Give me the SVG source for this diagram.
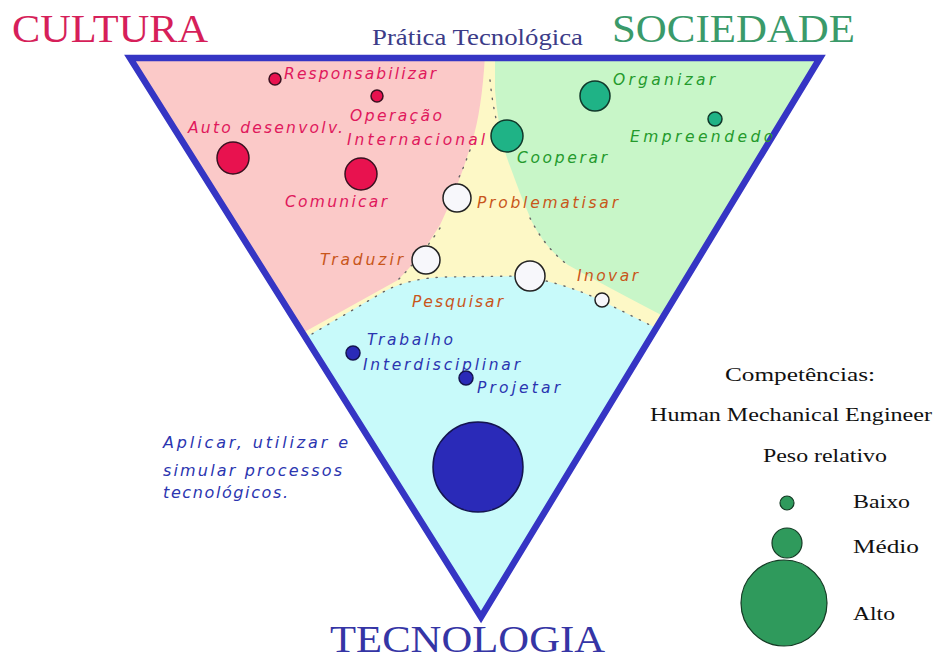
<svg xmlns="http://www.w3.org/2000/svg" width="935" height="661" viewBox="0 0 935 661">
<defs>
<style>
.lbl{font-family:"DejaVu Sans","Liberation Sans",sans-serif;font-style:italic;font-size:15.5px;}
.big{font-family:"DejaVu Sans","Liberation Sans",sans-serif;font-style:italic;font-size:16px;}
.ser{font-family:"Liberation Serif","DejaVu Serif",serif;}
.red{fill:#e0185c;}
.grn{fill:#249a2c;}
.org{fill:#c8561a;}
.blu{fill:#2b35b0;}
.cr{fill:#e8124f;stroke:#3a1020;stroke-width:1.5;}
.cg{fill:#1fb386;stroke:#10382a;stroke-width:1.5;}
.cw{fill:#f7f7fb;stroke:#222;stroke-width:1.5;}
.cb{fill:#2a2ab8;stroke:#141450;stroke-width:1.5;}
.cl{fill:#2f9a5c;stroke:#143a24;stroke-width:1.2;}
.dot{fill:none;stroke:#666;stroke-width:1.4;stroke-dasharray:1.2 8;stroke-linecap:round;}
.leg{font-size:19px;fill:#111;}
</style>
<clipPath id="tri"><polygon points="130,58 820,58 481,617"/></clipPath>
</defs>
<rect width="935" height="661" fill="#ffffff"/>

<g id="regions" clip-path="url(#tri)">
<polygon points="130,58 820,58 481,617" fill="#fdf8c6"/>
<path id="reg-cultura" d="M100,40 L486,40 L484,70 Q480,120 470,148 Q457,190 440,225 Q420,258 398,280 L290,340 L100,340 Z" fill="#fbc9c8"/>
<path id="reg-sociedade" d="M495,40 L850,40 L850,350 L700,335 Q620,294 568,265 Q545,248 532,222 Q518,190 506,155 Q497,120 495,90 Z" fill="#c8f6c8"/>
<path id="reg-tecnologia" d="M290,346 L385,291 Q410,278 445,277 L520,276 Q562,282 600,300 L680,340 L680,650 L270,650 Z" fill="#c8fafa"/>
<path class="dot" d="M312,334 L385,291 Q410,278 445,277 L520,276 Q562,282 600,300 L660,330"/>
<path class="dot" d="M490,80 Q494,120 505,150"/>
<path class="dot" d="M530,218 Q545,248 568,265"/>
<path class="dot" d="M470,150 Q460,178 452,190"/>
<path class="dot" d="M440,228 Q420,258 398,280"/>
</g>

<polygon id="triangle" points="130,58 820,58 481,617" fill="none" stroke="#3535c4" stroke-width="6.5" stroke-linejoin="miter"/>

<g id="titles" class="ser">
<text x="12" y="42" font-size="40" fill="#d61f5a" textLength="196" lengthAdjust="spacingAndGlyphs">CULTURA</text>
<text x="372" y="45" font-size="24" fill="#3c3c88" textLength="211" lengthAdjust="spacingAndGlyphs">Prática Tecnológica</text>
<text x="612" y="42" font-size="40" fill="#3a9a6a" textLength="243" lengthAdjust="spacingAndGlyphs">SOCIEDADE</text>
<text x="330" y="652" font-size="37" fill="#3535a5" textLength="275" lengthAdjust="spacingAndGlyphs">TECNOLOGIA</text>
</g>

<g id="node-responsabilizar">
<circle class="cr" cx="275" cy="79" r="6"/>
<text class="lbl red" x="284" y="79" textLength="152">Responsabilizar</text>
</g>
<g id="node-operacao">
<circle class="cr" cx="377" cy="96" r="6"/>
<text class="lbl red" x="350" y="121" textLength="92">Operação</text>
<text class="lbl red" x="347" y="145" textLength="138">Internacional</text>
</g>
<g id="node-auto">
<circle class="cr" cx="233" cy="158" r="16"/>
<text class="lbl red" x="188" y="133" textLength="155">Auto desenvolv.</text>
</g>
<g id="node-comunicar">
<circle class="cr" cx="361" cy="174" r="16"/>
<text class="lbl red" x="285" y="207" textLength="102">Comunicar</text>
</g>

<g id="node-organizar">
<circle class="cg" cx="595" cy="96" r="15"/>
<text class="lbl grn" x="613" y="85" textLength="102">Organizar</text>
</g>
<g id="node-empreendedor">
<circle class="cg" cx="715" cy="119" r="7"/>
<text class="lbl grn" x="630" y="142" textLength="153" clip-path="url(#tri)">Empreendedor</text>
</g>
<g id="node-cooperar">
<circle class="cg" cx="507" cy="136" r="16"/>
<text class="lbl grn" x="517" y="163" textLength="90">Cooperar</text>
</g>

<g id="node-problematisar">
<circle class="cw" cx="457" cy="198" r="14"/>
<text class="lbl org" x="477" y="208" textLength="141">Problematisar</text>
</g>
<g id="node-traduzir">
<circle class="cw" cx="426" cy="260" r="14"/>
<text class="lbl org" x="320" y="265" textLength="83">Traduzir</text>
</g>
<g id="node-pesquisar">
<circle class="cw" cx="530" cy="276" r="15"/>
<text class="lbl org" x="412" y="307" textLength="91">Pesquisar</text>
</g>
<g id="node-inovar">
<circle class="cw" cx="602" cy="300" r="7"/>
<text class="lbl org" x="577" y="281" textLength="61">Inovar</text>
</g>

<g id="node-trabalho">
<circle class="cb" cx="353" cy="353" r="7"/>
<text class="lbl blu" x="367" y="345" textLength="86">Trabalho</text>
<text class="lbl blu" x="363" y="370" textLength="157">Interdisciplinar</text>
</g>
<g id="node-projetar">
<circle class="cb" cx="466" cy="378" r="7"/>
<text class="lbl blu" x="477" y="393" textLength="83">Projetar</text>
</g>
<g id="node-aplicar">
<circle class="cb" cx="478" cy="467" r="45"/>
<text class="big blu" x="163" y="448" textLength="185">Aplicar, utilizar e</text>
<text class="big blu" x="163" y="476" textLength="179">simular processos</text>
<text class="big blu" x="163" y="498" textLength="125">tecnológicos.</text>
</g>

<g id="legend" class="ser">
<text class="leg" x="725" y="381" textLength="150" lengthAdjust="spacingAndGlyphs">Competências:</text>
<text class="leg" x="650" y="421" textLength="282" lengthAdjust="spacingAndGlyphs">Human Mechanical Engineer</text>
<text class="leg" x="763" y="462" textLength="124" lengthAdjust="spacingAndGlyphs">Peso relativo</text>
<g id="legend-baixo">
<circle class="cl" cx="787" cy="503" r="7"/>
<text class="leg" x="853" y="508" textLength="57" lengthAdjust="spacingAndGlyphs">Baixo</text>
</g>
<g id="legend-medio">
<circle class="cl" cx="787" cy="543" r="15"/>
<text class="leg" x="853" y="553" textLength="66" lengthAdjust="spacingAndGlyphs">Médio</text>
</g>
<g id="legend-alto">
<circle class="cl" cx="784" cy="603" r="43"/>
<text class="leg" x="853" y="620" textLength="42" lengthAdjust="spacingAndGlyphs">Alto</text>
</g>
</g>
</svg>
